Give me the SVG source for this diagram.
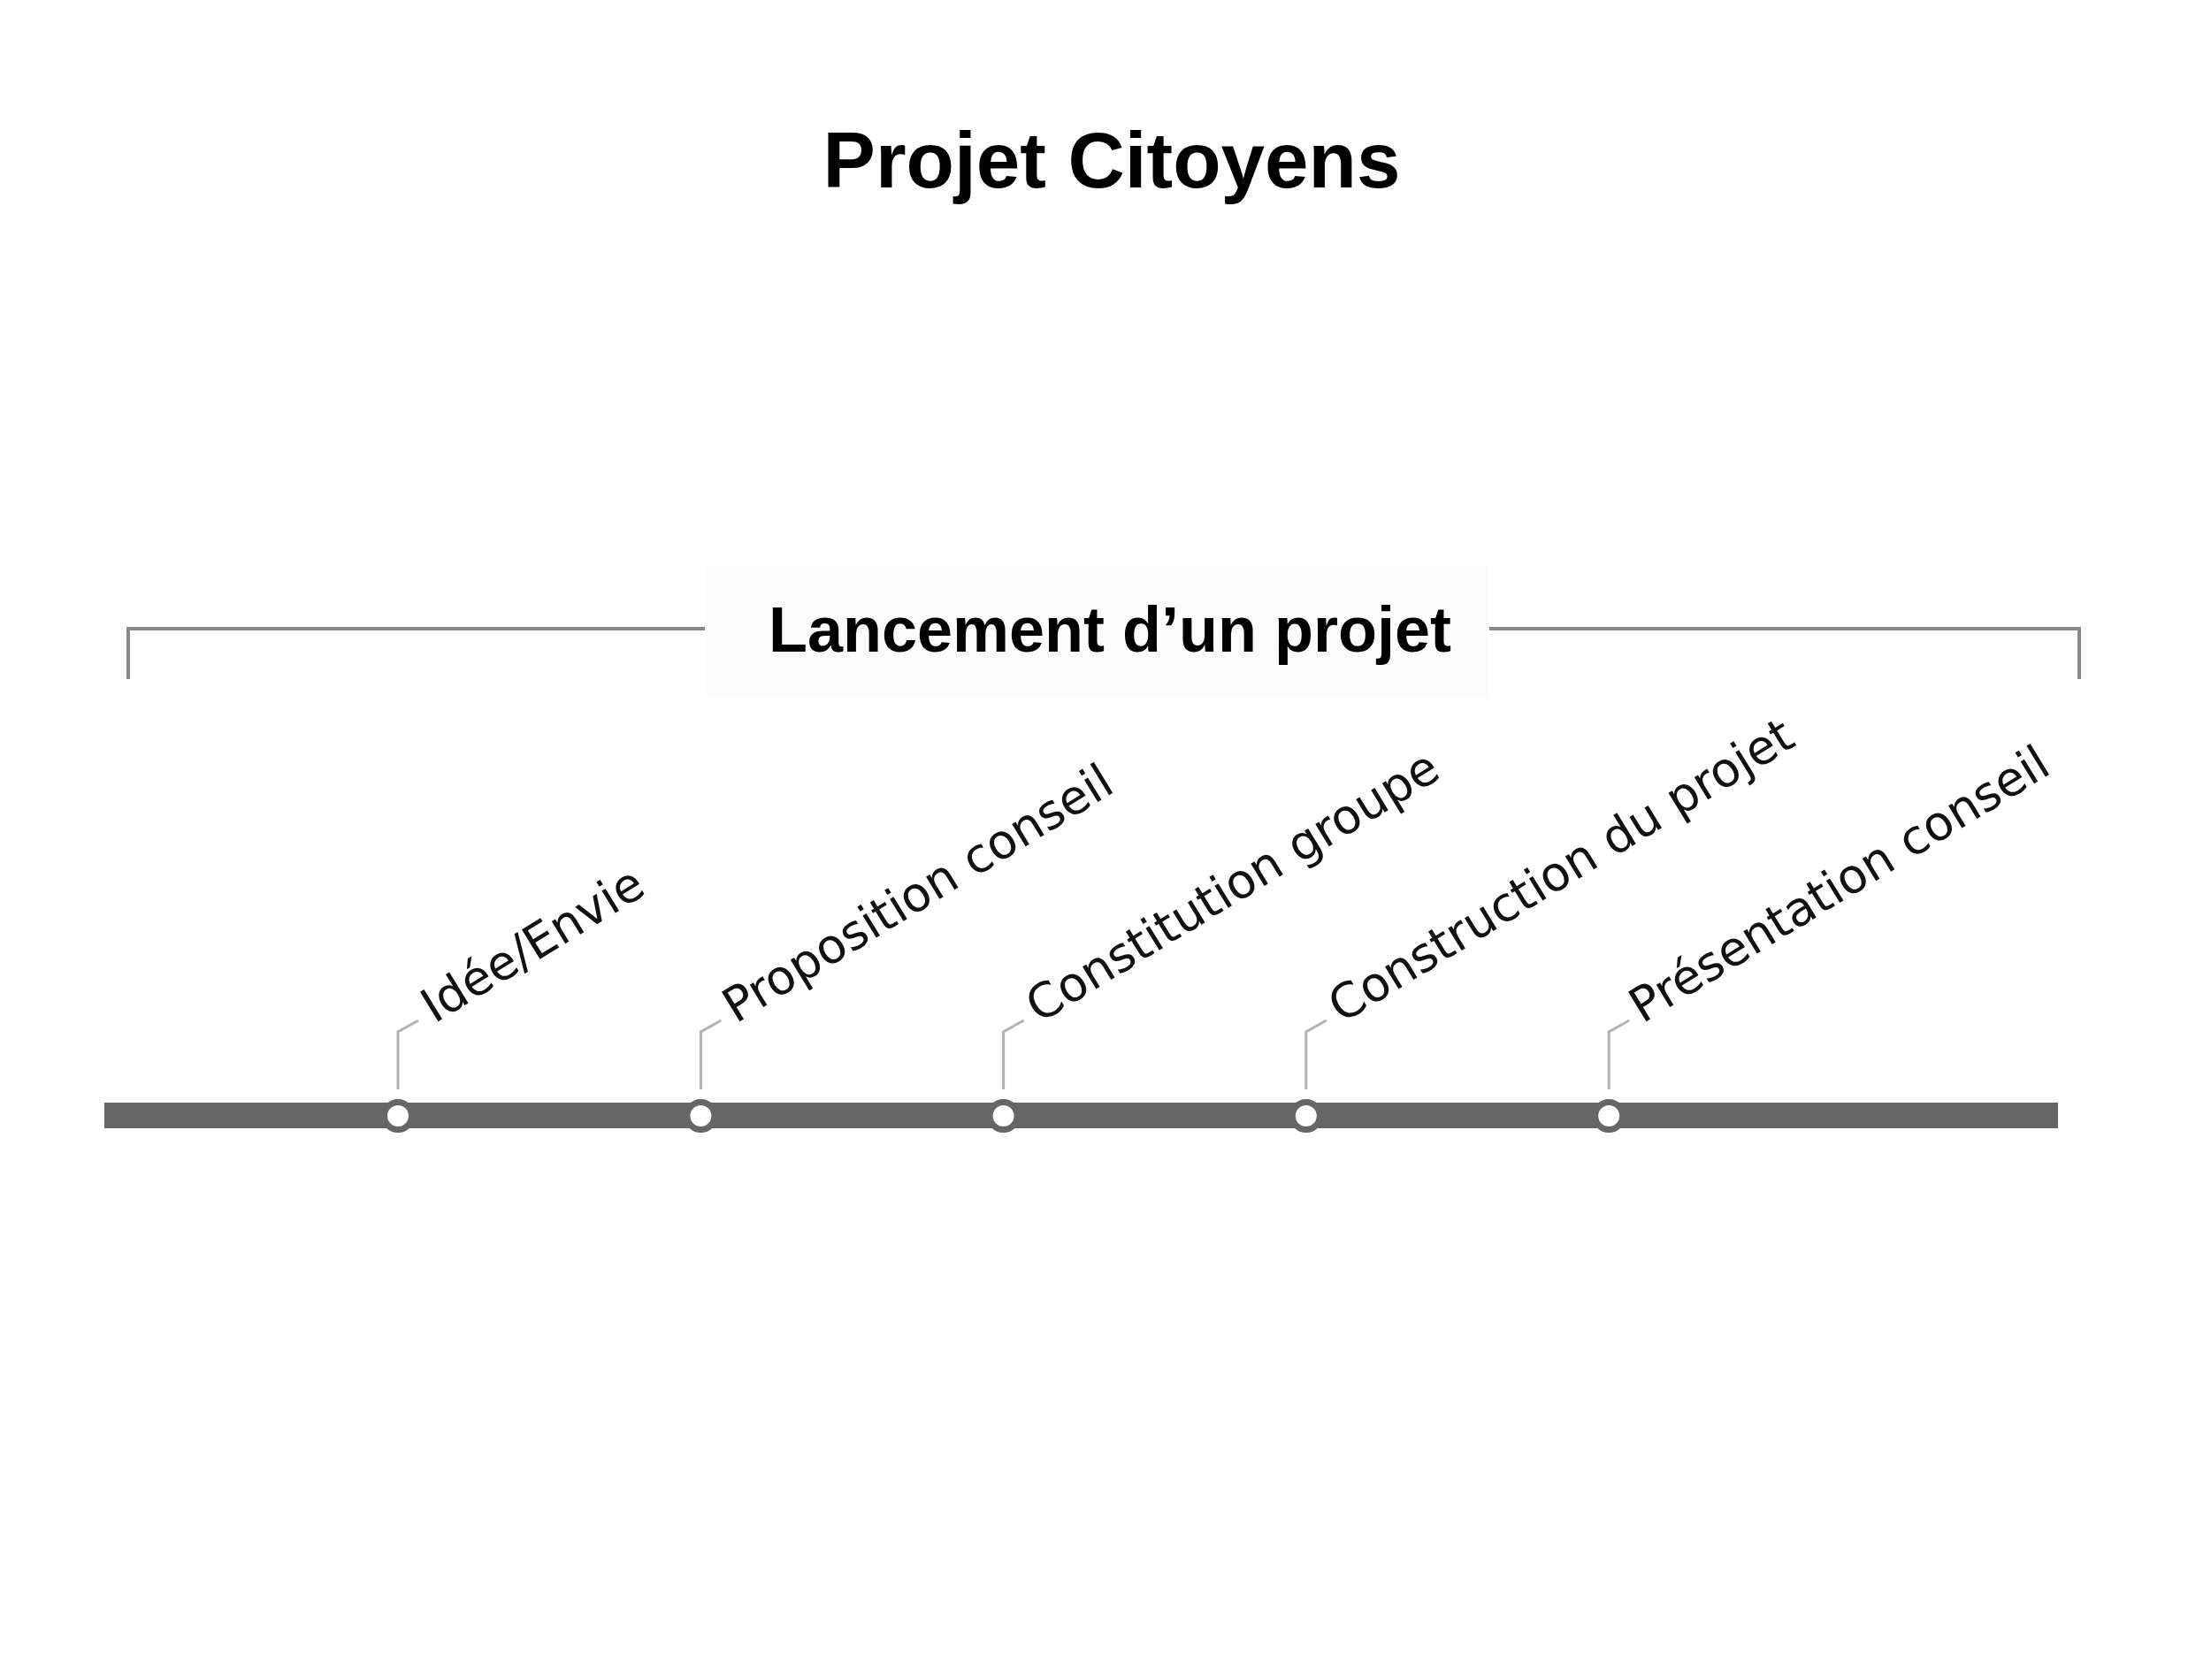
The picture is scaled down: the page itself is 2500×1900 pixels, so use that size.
<svg xmlns="http://www.w3.org/2000/svg" width="2500" height="1900" viewBox="0 0 2500 1900">
<style>
.title{font-family:"Liberation Sans",Arial,sans-serif;font-weight:bold;fill:#000}
.lbl{font-family:"DejaVu Sans","Noto Sans",sans-serif;font-size:54px;fill:#111}
.leader{fill:none;stroke:#b3b3b3;stroke-width:3}
.dot{fill:#fff;stroke:#666;stroke-width:7}
.brk{fill:none;stroke:#888;stroke-width:4}
</style>
<rect width="2500" height="1900" fill="#fff"/>
<text class="title" x="1257" y="212" font-size="89" text-anchor="middle">Projet Citoyens</text>
<g id="phase">
<rect x="799" y="639" width="884" height="149" fill="#fbfbfb"/>
<polyline class="brk" points="145,768 145,711 797,711"/>
<polyline class="brk" points="1684,711 2351,711 2351,768"/>
<text class="title" x="1255" y="737" font-size="72" text-anchor="middle">Lancement d’un projet</text>
</g>
<g id="timeline">
<rect x="118" y="1247" width="2209" height="29" fill="#666"/>
</g>
<g id="connectors">
<polyline class="leader" points="450,1232 450,1167 473,1154"/>
<polyline class="leader" points="792.4,1232 792.4,1167 815.4,1154"/>
<polyline class="leader" points="1134.6,1232 1134.6,1167 1157.6,1154"/>
<polyline class="leader" points="1476.8,1232 1476.8,1167 1499.8,1154"/>
<polyline class="leader" points="1819.2,1232 1819.2,1167 1842.2,1154"/>
</g>
<g id="n1"><circle class="dot" cx="450" cy="1262" r="15.5"/><text class="lbl" transform="translate(491,1158) rotate(-31.5)">Idée/Envie</text></g>
<g id="n2"><circle class="dot" cx="792.4" cy="1262" r="15.5"/><text class="lbl" transform="translate(832,1158) rotate(-31.5)">Proposition conseil</text></g>
<g id="n3"><circle class="dot" cx="1134.6" cy="1262" r="15.5"/><text class="lbl" transform="translate(1175,1158) rotate(-31.5)">Constitution groupe</text></g>
<g id="n4"><circle class="dot" cx="1476.8" cy="1262" r="15.5"/><text class="lbl" transform="translate(1517,1158) rotate(-31.5)">Construction du projet</text></g>
<g id="n5"><circle class="dot" cx="1819.2" cy="1262" r="15.5"/><text class="lbl" transform="translate(1857,1158) rotate(-31.5)">Présentation conseil</text></g>
</svg>
